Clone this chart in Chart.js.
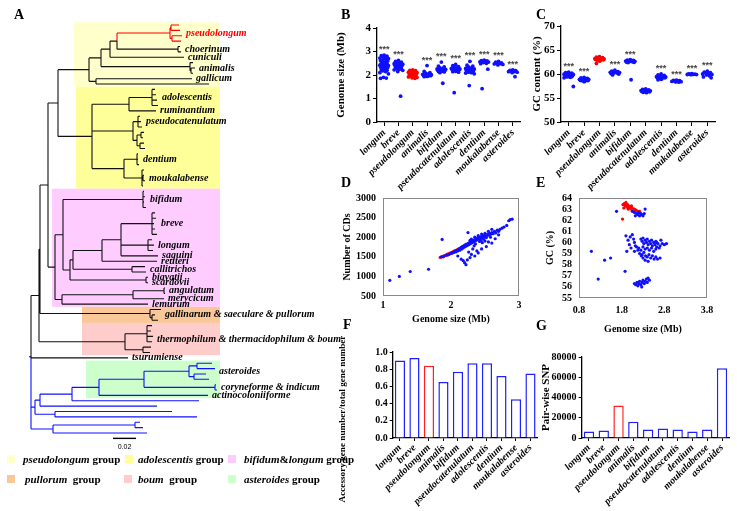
<!DOCTYPE html>
<html><head><meta charset="utf-8">
<script src="https://cdn.jsdelivr.net/npm/chart.js"></script>
<style>
body{margin:0;background:#fff;}
#wrap{position:relative;width:737px;height:511px;overflow:hidden;background:#fff;font-family:'Liberation Serif','Times New Roman',serif;}
canvas{position:absolute;}
.pl{position:absolute;font-weight:bold;font-size:14px;line-height:14px;}
.lg{position:absolute;font-weight:bold;font-size:11px;line-height:14px;white-space:nowrap;}
.sw{position:absolute;width:8px;height:8px;}
.vt{position:absolute;font-weight:bold;font-size:9.2px;line-height:14px;height:14px;text-align:center;transform:rotate(-90deg);white-space:nowrap;}
</style></head>
<body><div id="wrap">
<canvas id="cA" width="350" height="511" style="left:0;top:0"></canvas>
<canvas id="cB" width="200" height="200" style="left:330px;top:0"></canvas>
<canvas id="cC" width="207" height="200" style="left:530px;top:0"></canvas>
<canvas id="cD" width="200" height="145" style="left:330px;top:185px"></canvas>
<canvas id="cE" width="207" height="150" style="left:530px;top:185px"></canvas>
<canvas id="cF" width="210" height="171" style="left:330px;top:340px"></canvas>
<canvas id="cG" width="207" height="171" style="left:530px;top:340px"></canvas>
<div class="vt" style="left:242px;top:412px;width:200px;">Accessory gene number/total gene number</div>
<div class="pl" style="left:14px;top:8px">A</div>
<div class="pl" style="left:341px;top:8px">B</div>
<div class="pl" style="left:536px;top:8px">C</div>
<div class="pl" style="left:341px;top:176px">D</div>
<div class="pl" style="left:536px;top:176px">E</div>
<div class="pl" style="left:343px;top:318px">F</div>
<div class="pl" style="left:536px;top:319px">G</div>
<div class="sw" style="left:7px;top:455px;background:#FFFFCC"></div>
<div class="lg" style="left:23px;top:452px"><i>pseudolongum</i> group</div>
<div class="sw" style="left:125px;top:455px;background:#FFFF99"></div>
<div class="lg" style="left:138px;top:452px"><i>adolescentis</i> group</div>
<div class="sw" style="left:228px;top:455px;background:#FFCCFF"></div>
<div class="lg" style="left:244px;top:452px"><i>bifidum</i>&amp;<i>longum</i> group</div>
<div class="sw" style="left:7px;top:475px;background:#FAC898"></div>
<div class="lg" style="left:25px;top:472px"><i>pullorum</i>&nbsp; group</div>
<div class="sw" style="left:124px;top:475px;background:#FFCCCC"></div>
<div class="lg" style="left:138px;top:472px"><i>boum</i>&nbsp; group</div>
<div class="sw" style="left:228px;top:475px;background:#CCFFCC"></div>
<div class="lg" style="left:244px;top:472px"><i>asteroides</i> group</div>
</div>
<script>
// ================= DATA =================
const CATS = ['longum','breve','pseudolongum','animalis','bifidum','pseudocatenulatum','adolescentis','dentium','moukalabense','asteroides'];
const HIGHLIGHT = 'pseudolongum';

// Panel B: genome size (Mb)
const GS_LONGUM = [2.85,2.82,2.80,2.78,2.75,2.72,2.70,2.68,2.65,2.62,2.60,2.58,2.55,2.52,2.50,2.48,2.46,2.44,2.42,2.40,2.38,2.36,2.34,2.32,2.30,2.28,2.25,2.22,2.20,2.18,2.15,2.10,2.05,1.90,1.87,1.86];
const GS_BREVE = [2.62,2.58,2.55,2.52,2.50,2.48,2.46,2.45,2.43,2.42,2.40,2.38,2.36,2.35,2.33,2.30,2.28,2.25,2.22,2.20,2.15,1.10];
const GS_PSEUDOLONGUM = [2.22,2.20,2.18,2.16,2.14,2.12,2.10,2.08,2.06,2.05,2.04,2.02,2.00,1.99,1.98,1.96,1.95,1.94,1.92,1.90,1.88,1.86];
const GS_ANIMALIS = [2.40,2.15,2.10,2.08,2.05,2.03,2.01,2.00,1.99,1.98,1.97,1.96,1.95,1.94,1.93];
const GS_BIFIDUM = [2.55,2.38,2.34,2.30,2.28,2.26,2.24,2.22,2.21,2.20,2.19,2.18,2.17,2.16,2.15,2.13,2.10,1.65];
const GS_PSEUDOCAT = [2.45,2.40,2.36,2.33,2.30,2.28,2.26,2.25,2.24,2.23,2.22,2.20,2.18,2.16,2.14,2.12,1.25];
const GS_ADOLESCENTIS = [2.58,2.42,2.38,2.34,2.30,2.28,2.26,2.24,2.22,2.20,2.19,2.18,2.17,2.16,2.15,2.14,2.12,2.10,2.08,2.05,1.55];
const GS_DENTIUM = [2.63,2.61,2.60,2.58,2.57,2.56,2.55,2.53,2.50,2.48,2.25,1.42];
const GS_MOUKALABENSE = [2.58,2.55,2.52,2.50,2.48,2.47,2.45,2.43];
const GS_ASTEROIDES = [2.22,2.20,2.18,2.16,2.15,2.14,2.12,2.10,1.93];
const B_STARS = ['***','***','','***','***','***','***','***','***','***'];

// Panel C: GC content (%)
const GC_LONGUM = [60.4,60.3,60.2,60.1,60.0,59.95,59.9,59.85,59.8,59.75,59.7,59.65,59.6,59.55,59.5,59.45,59.4,59.3,59.2,57.4];
const GC_BREVE = [59.3,59.2,59.1,59.0,58.95,58.9,58.85,58.8,58.75,58.7,58.65,58.6,58.5,58.4];
const GC_PSEUDOLONGUM = [63.6,63.5,63.4,63.3,63.25,63.2,63.15,63.1,63.05,63.0,62.95,62.9,62.8,62.7,62.2];
const GC_ANIMALIS = [60.8,60.6,60.5,60.45,60.4,60.35,60.3,60.25,60.2,60.1,60.0,59.8];
const GC_BIFIDUM = [63.0,62.9,62.85,62.8,62.75,62.7,62.65,62.6,62.55,62.5,62.45,62.4,58.8];
const GC_PSEUDOCAT = [56.9,56.8,56.7,56.65,56.6,56.55,56.5,56.45,56.4,56.35,56.3,56.2,56.1];
const GC_ADOLESCENTIS = [60.0,59.8,59.7,59.6,59.5,59.45,59.4,59.35,59.3,59.25,59.2,59.1,59.0,58.9,58.8];
const GC_DENTIUM = [58.7,58.65,58.6,58.55,58.5,58.45,58.4,58.35,58.3];
const GC_MOUKALABENSE = [60.05,60.0,59.98,59.95,59.92,59.9,59.88,59.85];
const GC_ASTEROIDES = [60.6,60.4,60.3,60.2,60.1,60.0,59.9,59.8,59.6,59.4,59.2];
const C_STARS = ['***','***','','***','***','','***','***','***','***'];

// Panel D: [genome size Mb, number of CDs]
const D_PSEUDOLONGUM = [[1.84,1483],[1.86,1495],[1.88,1510],[1.89,1500],[1.90,1525],[1.92,1540],[1.94,1560],[1.95,1545],[1.96,1575],[1.98,1590],[2.00,1605],[2.01,1595],[2.02,1620],[2.04,1640],[2.06,1655],[2.07,1650],[2.08,1670],[2.10,1690],[2.12,1705],[2.13,1700],[2.14,1720],[2.16,1745],[2.18,1765],[2.19,1775],[2.20,1790],[2.22,1820]];
const D_OTHER = [[1.10,900],[1.24,1000],[1.40,1125],[1.67,1183],[1.87,1942],[2.25,2117],
[1.86,1500],[1.90,1520],[1.93,1540],[1.96,1555],[1.98,1570],[2.00,1585],[2.02,1600],[2.04,1610],[2.05,1640],[2.07,1625],[2.08,1660],[2.10,1650],[2.11,1690],[2.12,1700],[2.13,1670],[2.14,1720],[2.15,1740],[2.16,1700],[2.17,1760],[2.18,1730],[2.19,1780],[2.20,1750],[2.21,1800],[2.22,1770],[2.23,1820],[2.24,1790],[2.25,1840],[2.26,1810],[2.27,1860],[2.28,1830],[2.29,1880],[2.30,1850],[2.31,1900],[2.32,1870],[2.33,1920],[2.34,1890],[2.35,1940],[2.36,1910],[2.37,1960],[2.38,1930],[2.39,1975],[2.40,1950],[2.41,1990],[2.42,1965],[2.43,2000],[2.44,1980],[2.45,2020],[2.46,1995],[2.47,2040],[2.48,2010],[2.50,2060],[2.52,2030],[2.54,2080],[2.55,2050],[2.57,2100],[2.58,2070],[2.60,2120],[2.62,2090],[2.64,2150],[2.66,2110],[2.68,2180],[2.70,2150],[2.72,2200],[2.75,2230],[2.78,2260],[2.82,2300],[2.85,2420],[2.87,2450],[2.90,2460],
[2.10,1520],[2.15,1440],[2.18,1400],[2.20,1350],[2.22,1300],[2.24,1420],[2.28,1480],[2.30,1560],[2.35,1520],[2.40,1600],[2.45,1700],[2.52,1760],[2.60,1850],[2.38,1650],[2.32,1700],[2.26,1620],[2.55,1880],[2.65,1960],[2.50,1900],[2.70,2060],
[2.30,1950],[2.35,2000],[2.45,2080],[2.55,2150],[2.40,2040],[2.60,2200],[2.50,2100],[2.28,1920],[2.42,1890],[2.48,1950],[2.36,1830],[2.44,1920],[2.52,1990],[2.58,2000],[2.34,1780],[2.46,1860]];

// Panel E: [genome size Mb, GC %]
const E_PSEUDOLONGUM = [[1.83,63.4],[1.86,63.5],[1.88,63.3],[1.90,63.6],[1.91,63.4],[1.92,63.2],[1.94,63.4],[1.96,63.3],[1.98,63.1],[2.00,63.2],[2.02,63.0],[2.03,63.3],[2.05,63.1],[2.08,62.9],[2.10,63.0],[2.14,62.9],[2.18,62.8],[2.22,62.8],[1.85,63.1],[1.95,63.0],[1.82,62.1]];
const E_OTHER = [[2.05,62.8],[2.10,62.7],[2.15,62.6],[2.18,62.5],[2.20,62.7],[2.22,62.4],[2.25,62.6],[2.28,62.5],[2.30,62.4],[2.33,62.6],[2.35,63.0],[2.12,62.4],[1.68,62.8],
[1.90,60.6],[1.95,60.2],[2.00,60.5],[2.05,60.7],[2.08,60.3],[2.10,60.0],[2.12,59.7],[1.98,59.8],[1.92,59.2],[2.02,59.5],
[2.25,60.3],[2.28,60.1],[2.30,60.4],[2.32,59.9],[2.35,60.2],[2.38,60.0],[2.40,60.3],[2.42,59.8],[2.45,60.1],[2.48,59.9],[2.50,60.2],[2.52,59.7],[2.55,60.0],[2.58,59.8],[2.60,60.1],[2.62,59.6],[2.65,59.9],[2.70,59.7],[2.75,59.9],[2.80,59.8],[2.85,59.9],[2.20,59.5],[2.25,59.3],[2.30,59.6],[2.35,59.4],[2.40,59.5],[2.45,59.3],[2.50,59.5],[2.55,59.2],[2.60,59.4],[2.22,59.0],[2.28,58.9],[2.32,59.1],[2.36,58.8],[2.40,58.7],[2.44,58.9],[2.48,58.6],[2.52,58.8],[2.56,58.5],[2.60,58.7],[2.64,58.5],[2.70,58.6],[2.35,58.4],[2.30,58.6],[2.26,58.8],[2.42,58.3],[2.18,59.3],[2.15,59.6],[2.10,59.2],[2.62,60.0],[2.72,60.2],[2.68,59.5],
[2.10,56.3],[2.13,56.2],[2.16,56.4],[2.18,56.1],[2.20,56.3],[2.22,56.5],[2.25,56.2],[2.28,56.4],[2.30,56.6],[2.33,56.3],[2.35,56.5],[2.38,56.7],[2.40,56.4],[2.42,56.8],[2.45,56.6],[2.27,56.0],
[1.09,59.2],[1.40,58.4],[1.54,58.6],[1.88,57.4],[1.25,56.7]];
const E_X_TICKS = [0.8,1.8,2.8,3.8];

// Panel F / G
const ACCESSORY_RATIO = [0.90,0.93,0.84,0.65,0.77,0.87,0.87,0.72,0.45,0.75];
const PAIRWISE_SNP = [6500,7500,32000,16000,8500,9500,8500,6500,8500,69000];

// Panel A: tree in Newick parts (branch lengths; 23 units = 0.02 substitutions/site)
const NW_PSG = "((((((:8,:9):1,(:10,:9):2)pseudolongum:53,(:2,:3)choerinum:61):7,cuniculi:74):9,(:3,(:4,:2):1)animalis:89):12,(gallicum:96,:113):7)@PSG:31";
const NW_ADG = "(((:3,:4,:5,:6)adolescentis:23,ruminantium:27):37,((:2,:3,:4)pseudocatenulatum:5,((:3,:2):4,(:4,:5):3):4):41,((:1,:1,:2)dentium:13,(:2,(:1,:2):1,:1)moukalabense:18):32)@ADG:34";
const NW_LONGUM_CORE = "((((:3,:4,:2,:3,:5)breve:31,(:4,:6,:5)longum:27,saguini:37):19,reuteri:55):29,(:13,:14)callitrichos:59):3";
const NW_BIF_P3 = "(((:1,:1)angulatum:31,merycicum:31):71,lemurum:86):7";
const NW_PULLORUM = "(:11,(:3,:6):2)gallinarum & saeculare & pullorum:110";
const NW_BOUM = "((:5,:4,:6,:5):22,(:8,:7):18)thermophilum & thermacidophilum & boum:86";
const NW_TSUR = "tsurumiense:97";
const NW_AST = "((((:15,:18):8,(:12,:15):5)asteroides:45,(:1,:2)coryneforme & indicum:71):45,actinocoloniiforme:109)@AST:27";
const NW_OUT_B7 = "((:5,:8):82,:94):22";
const NW_OUT_B6 = "(:117,:142):20";
const SCALE_BAR_VALUE = '0.02', SCALE_BAR_LEN = 23;

// ================= BUILD =================
const RED = '#FF0000', BLUE = '#1010FF';
const NW_BIF = "(((:1,:2,:1,:3)bifidum:80,(" + NW_LONGUM_CORE + ",(biavatii:2,scardovii:2):76):7):8," + NW_BIF_P3 + ")@BIF:7";
const NW_N2 = "((" + NW_PSG + "," + NW_ADG + "):10," + NW_BIF + "):8";
const NW_N4 = "((" + NW_N2 + "," + NW_PULLORUM + "):1," + NW_BOUM + "):8";
const NW_OUT = "((((" + NW_AST + ",:127):32,:117):5," + NW_OUT_B6 + "):4," + NW_OUT_B7 + ")@OUT:0";
const NEWICK = "(" + NW_N4 + "," + NW_TSUR + "," + NW_OUT + ");";

Chart.defaults.font.family = "'Liberation Serif','Times New Roman',serif";
Chart.defaults.font.weight = 'bold';
Chart.defaults.color = '#000';
Chart.defaults.animation = false;
Chart.defaults.responsive = false;
Chart.defaults.devicePixelRatio = 1;
Chart.defaults.plugins.legend.display = false;
Chart.defaults.plugins.tooltip.enabled = false;

function parseNewick(s){
  let i=0;
  function node(){
    const n={name:'',len:0,children:[]};
    if(s[i]==='('){ i++; n.children.push(node()); while(s[i]===','){ i++; n.children.push(node()); } i++; }
    let nm=''; while(i<s.length && ',():;'.indexOf(s[i])<0) nm+=s[i++];
    n.name=nm.trim();
    if(s[i]===':'){ i++; let num=''; while(i<s.length && ',();'.indexOf(s[i])<0) num+=s[i++]; n.len=parseFloat(num)||0; }
    return n;
  }
  return node();
}
const CLADE_COLOR = {'pseudolongum':RED,'@OUT':BLUE};
const root = parseNewick(NEWICK);
let leafCount=0; const nodesById={}; const allNodes=[];
function layout(n, px, color, parent){
  n.x = px + n.len; n.parent = parent;
  if(CLADE_COLOR[n.name]) color = CLADE_COLOR[n.name];
  n.color = color; allNodes.push(n); if(n.name) nodesById[n.name]=n;
  if(!n.children.length){ n.y=leafCount++; n.first=n.last=n.y; n.maxX=n.x; }
  else {
    n.children.forEach(c=>layout(c,n.x,color,n));
    const f=n.children[0], l=n.children[n.children.length-1];
    n.y=(f.y+l.y)/2; n.first=f.first; n.last=l.last;
    n.maxX=Math.max(...n.children.map(c=>c.maxX));
  }
}
layout(root, 0, '#111', null);
const segs = {};
function addSeg(c,x1,y1,x2,y2){ if(!segs[c]) segs[c]=[]; segs[c].push({x:x1,y:y1},{x:x2,y:y2},{x:null,y:null}); }
allNodes.forEach(n=>{
  if(n.parent) addSeg(n.color, n.parent.x, n.y, n.x, n.y);
  n.children.forEach(c=>addSeg(c.color, n.x, n.y, n.x, c.y));
});
addSeg(root.color, -2, root.y, 0, root.y);

// layout constants for panel A
const TREE_X0 = 31, TREE_W = 350, LEAF_PX = 408/(leafCount-1), FIRST_LEAF_PX = 25;
const BOX_RIGHT = 189, SCALE_BAR_X = 82;
const GROUP_BOXES = [
  {node:'@PSG', left:43, color:'#FFFFCC'},
  {node:'@ADG', left:45, color:'#FFFF99'},
  {node:'@BIF', left:21, color:'#FFCCFF'},
  {node:'gallinarum & saeculare & pullorum', left:51, color:'#FAC898'},
  {node:'thermophilum & thermacidophilum & boum', left:51, color:'#FFCCCC'},
  {node:'@AST', left:55, color:'#CCFFCC'}
];
const treeDeco = {
  id:'treeDeco',
  beforeDatasetsDraw(chart){
    const {ctx, scales:{x,y}} = chart;
    ctx.save();
    GROUP_BOXES.forEach(g=>{
      const n=nodesById[g.node];
      const x0=x.getPixelForValue(g.left), x1=x.getPixelForValue(BOX_RIGHT);
      const y0=y.getPixelForValue(n.first-0.5), y1=y.getPixelForValue(n.last+0.5);
      ctx.fillStyle=g.color; ctx.fillRect(x0,y0,x1-x0,y1-y0);
    });
    ctx.restore();
  },
  afterDatasetsDraw(chart){
    const {ctx, scales:{x,y}} = chart;
    ctx.save();
    ctx.font = "italic bold 10px 'Liberation Serif'";
    ctx.textBaseline='middle'; ctx.textAlign='left';
    allNodes.forEach(n=>{
      if(!n.name || n.name[0]==='@') return;
      const tx = x.getPixelForValue(n.maxX)+4;
      const ty = y.getPixelForValue(n.children.length ? (n.first+n.last)/2 : n.y);
      ctx.fillStyle = n.name==='pseudolongum' ? RED : '#000';
      ctx.fillText(n.name, tx, ty);
    });
    ctx.font = "7px 'Liberation Sans'"; ctx.textAlign='center'; ctx.fillStyle='#000';
    ctx.fillText(SCALE_BAR_VALUE, x.getPixelForValue(SCALE_BAR_X+SCALE_BAR_LEN/2), y.getPixelForValue(leafCount+1.7));
    ctx.restore();
  }
};
const treeDatasets = Object.keys(segs).map(c=>({data:segs[c], showLine:true, borderColor:c, borderWidth:1.1, pointRadius:0, spanGaps:false}));
treeDatasets.push({data:[{x:SCALE_BAR_X,y:leafCount},{x:SCALE_BAR_X+SCALE_BAR_LEN,y:leafCount}], showLine:true, borderColor:'#000', borderWidth:1.4, pointRadius:0});
const yMinTree = -FIRST_LEAF_PX/LEAF_PX;
new Chart(document.getElementById('cA'), {
  type:'scatter',
  data:{datasets:treeDatasets},
  options:{layout:{padding:0},
    scales:{x:{type:'linear',display:false,min:-TREE_X0,max:TREE_W-TREE_X0},
            y:{type:'linear',display:false,reverse:true,min:yMinTree,max:yMinTree+511/LEAF_PX}}},
  plugins:[treeDeco]
});

// ----- dot plots B, C -----
const JIT = [0,-0.2,0.2,-0.1,0.1,-0.3,0.3,-0.05,0.15,-0.25,0.25,-0.15,0.05];
const axisGrid = {drawOnChartArea:false, drawTicks:true, tickLength:4, color:'#000'};
const axisBorder = {color:'#000', width:1.3};
const starPlugin = {
  id:'stars',
  afterDatasetsDraw(chart, args, opts){
    const {ctx, scales:{x,y}} = chart;
    ctx.save(); ctx.font="bold 9px 'Liberation Sans'"; ctx.fillStyle='#444';
    ctx.textAlign='center'; ctx.textBaseline='bottom';
    opts.stars.forEach((s,i)=>{ if(!s) return; const m=Math.max(...opts.groups[i]); ctx.fillText(s, x.getPixelForValue(i), y.getPixelForValue(m)-1); });
    ctx.restore();
  }
};
function dotChart(id, groups, stars, ymin, ymax, ystep, ytitle, d){
  const datasets = groups.map((vals,ci)=>({
    data: vals.map((v,i)=>({x:ci+JIT[i%JIT.length], y:v})),
    backgroundColor: CATS[ci]===HIGHLIGHT ? RED : BLUE, borderWidth:0, pointRadius:1.9
  }));
  new Chart(document.getElementById(id), {
    type:'scatter', data:{datasets},
    options:{
      layout:{padding:{top:d.top,right:d.right,left:0,bottom:0}},
      scales:{
        x:{type:'linear',min:-0.5,max:CATS.length-0.5,
           afterBuildTicks:s=>{ s.ticks = CATS.map((c,i)=>({value:i})); },
           afterFit:s=>{ s.height=d.xh; },
           ticks:{callback:v=>CATS[v], font:{size:10,style:'italic',weight:'bold'}, minRotation:45, maxRotation:45, padding:1, autoSkip:false},
           grid:axisGrid, border:axisBorder},
        y:{min:ymin,max:ymax, afterFit:s=>{ s.width=d.yw; },
           ticks:{stepSize:ystep, font:{size:11}, padding:2},
           title:{display:true,text:ytitle,font:{size:11,weight:'bold'},padding:{top:d.tp,bottom:0}},
           grid:axisGrid, border:axisBorder}
      },
      plugins:{stars:{stars, groups}}
    },
    plugins:[starPlugin]
  });
}
dotChart('cB', [GS_LONGUM,GS_BREVE,GS_PSEUDOLONGUM,GS_ANIMALIS,GS_BIFIDUM,GS_PSEUDOCAT,GS_ADOLESCENTIS,GS_DENTIUM,GS_MOUKALABENSE,GS_ASTEROIDES],
  B_STARS, 0, 4, 1, 'Genome size (Mb)', {top:28,right:10,yw:47,xh:78,tp:5});
dotChart('cC', [GC_LONGUM,GC_BREVE,GC_PSEUDOLONGUM,GC_ANIMALIS,GC_BIFIDUM,GC_PSEUDOCAT,GC_ADOLESCENTIS,GC_DENTIUM,GC_MOUKALABENSE,GC_ASTEROIDES],
  C_STARS, 50, 70, 5, 'GC content (%)', {top:26,right:22,yw:31,xh:78,tp:1});

// ----- scatter D, E -----
const boxPlugin = {id:'box', afterDraw(chart){ const {ctx, chartArea:a}=chart; ctx.save(); ctx.strokeStyle='#8a8a8a'; ctx.lineWidth=1; ctx.strokeRect(a.left+0.5,a.top+0.5,a.right-a.left-1,a.bottom-a.top-1); ctx.restore(); }};
const noGrid = {display:false, drawTicks:false};
function scatterChart(id, other, hi, xo, yo, d){
  new Chart(document.getElementById(id), {
    type:'scatter',
    data:{datasets:[
      {data:other.map(p=>({x:p[0],y:p[1]})), backgroundColor:BLUE, borderWidth:0, pointRadius:1.6},
      {data:hi.map(p=>({x:p[0],y:p[1]})), backgroundColor:RED, borderWidth:0, pointRadius:1.6}
    ]},
    options:{
      layout:{padding:{top:d.top,right:d.right,left:0,bottom:0}},
      scales:{
        x:Object.assign({type:'linear', afterFit:s=>{ s.height=d.xh; }, grid:noGrid, border:{display:false},
           title:{display:true,text:'Genome size (Mb)',font:{size:10,weight:'bold'},padding:{top:0,bottom:d.xtp}}}, xo),
        y:Object.assign({type:'linear', afterFit:s=>{ s.width=d.yw; }, grid:noGrid, border:{display:false}}, yo)
      }
    },
    plugins:[boxPlugin]
  });
}
scatterChart('cD', D_OTHER, D_PSEUDOLONGUM,
  {min:1,max:3,ticks:{stepSize:1,font:{size:10},padding:3}},
  {min:500,max:3000,ticks:{stepSize:500,font:{size:10},padding:7,autoSkip:false,callback:v=>String(v)},
   title:{display:true,text:'Number of CDs',font:{size:10,weight:'bold'},padding:{top:11,bottom:0}}},
  {top:10,right:11,yw:53,xh:34,xtp:5});
scatterChart('cE', E_OTHER, E_PSEUDOLONGUM,
  {min:0.8,max:3.8,afterBuildTicks:s=>{ s.ticks=E_X_TICKS.map(v=>({value:v})); },ticks:{font:{size:10},padding:6}},
  {min:55,max:64,ticks:{stepSize:1,font:{size:10},padding:7,autoSkip:false},
   title:{display:true,text:'GC (%)',font:{size:10,weight:'bold'},padding:{top:14,bottom:0}}},
  {top:11,right:30,yw:49,xh:37,xtp:0});

// ----- bar charts F, G -----
function barChart(id, vals, yo, d){
  new Chart(document.getElementById(id), {
    type:'bar',
    data:{labels:CATS, datasets:[{data:vals, backgroundColor:'#fff',
      borderColor:CATS.map(c=>c===HIGHLIGHT?'#FF2020':'#2020FF'), borderWidth:1.5,
      barPercentage:0.7, categoryPercentage:1}]},
    options:{
      layout:{padding:{top:d.top,right:d.right,left:0,bottom:0}},
      scales:{
        x:{afterFit:s=>{ s.height=d.xh; },
           ticks:{font:{size:10,style:'italic',weight:'bold'},minRotation:45,maxRotation:45,padding:1,autoSkip:false},
           grid:{drawOnChartArea:false,drawTicks:true,tickLength:3,color:'#000',offset:false}, border:axisBorder},
        y:Object.assign({afterFit:s=>{ s.width=d.yw; },
           grid:{drawOnChartArea:false,drawTicks:true,tickLength:3,color:'#000'}, border:axisBorder}, yo)
      }
    }
  });
}
barChart('cF', ACCESSORY_RATIO,
  {min:0,max:1,ticks:{stepSize:0.2,font:{size:10},padding:2,callback:v=>Number(v).toFixed(1)}},
  {top:12,right:0.7,yw:62.7,xh:73});
barChart('cG', PAIRWISE_SNP,
  {min:0,max:80000,ticks:{stepSize:20000,font:{size:10},padding:2,callback:v=>String(v)},
   title:{display:true,text:'Pair-wise SNP',font:{size:11,weight:'bold'},padding:{top:10,bottom:0}}},
  {top:17,right:7.6,yw:51.6,xh:73});
</script>
</body></html>
